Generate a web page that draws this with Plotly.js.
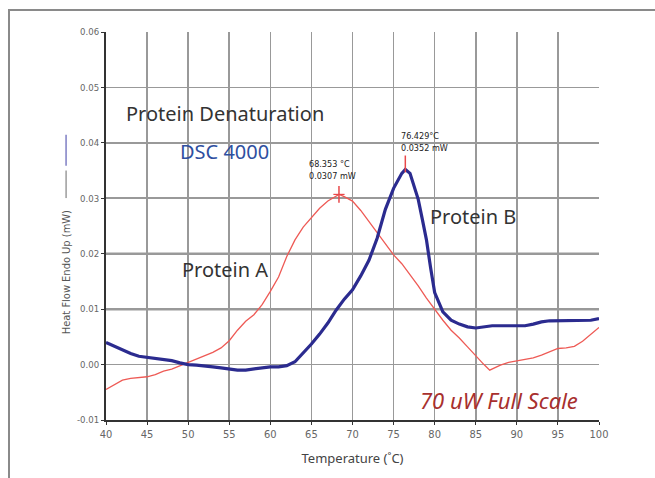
<!DOCTYPE html>
<html>
<head>
<meta charset="utf-8">
<script src="https://cdn.plot.ly/plotly-3.0.1.min.js"></script>
<style>
  html, body { margin: 0; padding: 0; background: #ffffff; }
  #wrap { position: relative; width: 655px; height: 478px; overflow: hidden; }
  #frame { position: absolute; left: 8px; top: 9px; width: 660px; height: 480px;
           border-top: 2px solid #8a8a8a; border-left: 2px solid #8a8a8a; }
  #chart { position: absolute; left: 0; top: 0; width: 655px; height: 478px; }
</style>
</head>
<body>
<div id="wrap">
  <div id="frame"></div>
  <div id="chart"></div>
</div>
<script>
// Protein A (thin red trace): temperature in °C and heat flow in mW
const tempA = [40, 41, 42, 43, 44, 45, 46, 47, 48, 49, 50, 51, 52, 53, 54, 55, 56, 57, 58, 59,
  60, 61, 62, 63, 64, 65, 66, 67, 68, 68.353, 69, 70, 71, 72, 73, 74, 75, 76, 77, 78, 79,
  80, 81, 82, 83, 84, 85, 86, 86.7, 87, 88, 89, 90, 91, 92, 93, 94, 95, 96, 97, 98, 99, 100];
const flowA = [-0.0045, -0.0037, -0.0028, -0.0025, -0.0023, -0.0022, -0.0018, -0.0012, -0.0008, -0.0002,
  0.0003, 0.0010, 0.0016, 0.0022, 0.0030, 0.0043, 0.0062, 0.0078, 0.0090, 0.0108,
  0.0132, 0.0158, 0.0195, 0.0225, 0.0248, 0.0265, 0.0282, 0.0295, 0.0305, 0.0307, 0.0303,
  0.0295, 0.0278, 0.0258, 0.0238, 0.0218, 0.0198, 0.0182, 0.0163, 0.0142, 0.0120,
  0.0099, 0.0080, 0.0062, 0.0048, 0.0032, 0.0015, 0.0000, -0.0010, -0.0008, -0.0001,
  0.0004, 0.0007, 0.0009, 0.0012, 0.0017, 0.0023, 0.0029, 0.0030, 0.0033, 0.0042, 0.0055, 0.0067];

// Protein B (heavy blue trace)
const tempB = [40, 41, 42, 43, 44, 45, 46, 47, 48, 49, 50, 51, 52, 53, 54, 55, 56, 57, 58, 59,
  60, 61, 62, 63, 64, 65, 66, 67, 68, 69, 70, 71, 72, 73, 74, 75, 76, 76.429, 77, 78, 78.5,
  79, 79.5, 80, 81, 82, 83, 84, 85, 86, 87, 88, 89, 90, 91, 92, 93, 94, 95, 96, 97, 98, 99, 100];
const flowB = [0.0040, 0.0033, 0.0027, 0.0020, 0.0015, 0.0013, 0.0012, 0.0010, 0.0007, 0.0003,
  0.0000, -0.0001, -0.0002, -0.0004, -0.0006, -0.0008, -0.0010, -0.0010, -0.0008, -0.0005,
  -0.0004, -0.0004, -0.0002, 0.0005, 0.0020, 0.0037, 0.0055, 0.0075, 0.0098, 0.0118,
  0.0135, 0.0160, 0.0188, 0.0228, 0.0280, 0.0318, 0.0345, 0.0352, 0.0345, 0.0298, 0.0262,
  0.0225, 0.0175, 0.0130, 0.0095, 0.0080, 0.0073, 0.0068, 0.0066, 0.0068, 0.0070,
  0.0070, 0.0070, 0.0069, 0.0070, 0.0073, 0.0077, 0.0079, 0.0079, 0.0079, 0.0079, 0.0079, 0.0080, 0.0083];

// Peak readouts
const peakA = { t: 68.353, q: 0.0307 };
const peakB = { t: 76.429, q: 0.0352 };

// Axis ticks
const xTicks = [40, 45, 50, 55, 60, 65, 70, 75, 80, 85, 90, 95, 100];
const yTicks = [-0.01, 0.00, 0.01, 0.02, 0.03, 0.04, 0.05, 0.06];
const darkGrid = [0.01, 0.02];

const condensed = '"Liberation Sans Narrow", "DejaVu Sans Condensed", "Roboto", sans-serif';
const body = '"Noto Sans", "Open Sans", sans-serif';

const traces = [
  {
    x: tempA, y: flowA, type: 'scatter', mode: 'lines', name: 'Protein A',
    line: { color: '#ee5a55', width: 1.3 }, hoverinfo: 'skip'
  },
  {
    x: tempB, y: flowB, type: 'scatter', mode: 'lines', name: 'Protein B',
    line: { color: '#2b2b8f', width: 3.2 }, hoverinfo: 'skip'
  },
  {
    // peak cursors
    x: [peakA.t, peakB.t], y: [peakA.q, peakB.q + 0.0010], type: 'scatter', mode: 'markers',
    marker: { symbol: 'line-ns', size: 12, line: { color: '#e8484a', width: 1.5 } },
    hoverinfo: 'skip'
  },
  {
    x: [peakA.t], y: [peakA.q], type: 'scatter', mode: 'markers',
    marker: { symbol: 'line-ew', size: 8, line: { color: '#e8484a', width: 1.2 } },
    hoverinfo: 'skip'
  }
];

// emphasised grid lines, plus the legend strokes that sit beside the y-axis title
const shapes = darkGrid.map(v => ({
  type: 'line', xref: 'paper', x0: 0, x1: 1, yref: 'y', y0: v, y1: v,
  line: { color: '#3a3a3a', width: 2 }, layer: 'below'
})).concat([
  { type: 'line', xref: 'paper', yref: 'paper', x0: -0.081, x1: -0.081, y0: 0.572, y1: 0.643,
    line: { color: '#6a6a6a', width: 1 } },
  { type: 'line', xref: 'paper', yref: 'paper', x0: -0.081, x1: -0.081, y0: 0.655, y1: 0.735,
    line: { color: '#7f7fc4', width: 1.5 } }
]);

const annotations = [
  { text: 'Protein Denaturation', x: 54.5, y: 0.0453, font: { family: body, size: 20, color: '#333333' } },
  { text: 'DSC 4000', x: 54.4, y: 0.0384, font: { family: body, size: 20, color: '#2f4f9f' } },
  { text: 'Protein A', x: 54.5, y: 0.0172, font: { family: body, size: 20, color: '#333333' } },
  { text: 'Protein B', x: 84.7, y: 0.0268, font: { family: body, size: 20, color: '#333333' } },
  { text: '<i>70 uW Full Scale</i>', x: 87.8, y: -0.0064, font: { family: body, size: 22, color: '#a8302e' } },
  {
    text: peakA.t.toFixed(3) + ' °C<br>' + peakA.q.toFixed(4) + ' mW',
    x: peakA.t, y: peakA.q, xanchor: 'center', yanchor: 'bottom', yshift: 11, xshift: -6,
    align: 'left', font: { family: condensed, size: 9, color: '#222222' }
  },
  {
    text: peakB.t.toFixed(3) + '°C<br>' + peakB.q.toFixed(4) + ' mW',
    x: peakB.t, y: peakB.q, xanchor: 'left', yanchor: 'bottom', yshift: 14, xshift: -6,
    align: 'left', font: { family: condensed, size: 9, color: '#222222' }
  },
  {
    text: 'Heat Flow Endo Up (mW)',
    xref: 'paper', yref: 'paper', x: -0.081, y: 0.381, textangle: -90,
    xanchor: 'center', yanchor: 'middle',
    font: { family: condensed, size: 11, color: '#555555' }
  }
].map(a => Object.assign({ xref: 'x', yref: 'y', showarrow: false }, a));

const layout = {
  width: 655, height: 478,
  margin: { l: 106, r: 56, t: 32, b: 58 },
  paper_bgcolor: 'rgba(0,0,0,0)',
  plot_bgcolor: 'rgba(0,0,0,0)',
  showlegend: false,
  xaxis: {
    range: [40, 100], tickvals: xTicks, ticktext: xTicks.map(String),
    showgrid: true, gridcolor: '#999999', gridwidth: 1.6,
    showline: true, linecolor: '#333333', linewidth: 2,
    ticks: 'outside', ticklen: 3, tickcolor: '#333333',
    tickfont: { family: condensed, size: 11, color: '#666666' },
    zeroline: false,
    title: { text: 'Temperature (˚C)', standoff: 14, font: { family: body, size: 13, color: '#444444' } }
  },
  yaxis: {
    range: [-0.01, 0.06], tickvals: yTicks, ticktext: yTicks.map(v => v.toFixed(2)),
    showgrid: true, gridcolor: '#999999', gridwidth: 1.6,
    showline: true, linecolor: '#333333', linewidth: 2,
    ticks: 'outside', ticklen: 3, tickcolor: '#333333',
    tickfont: { family: condensed, size: 9.5, color: '#666666' },
    zeroline: false
  },
  shapes: shapes,
  annotations: annotations
};

Plotly.newPlot('chart', traces, layout, { displayModeBar: false, staticPlot: true });
</script>
</body>
</html>
